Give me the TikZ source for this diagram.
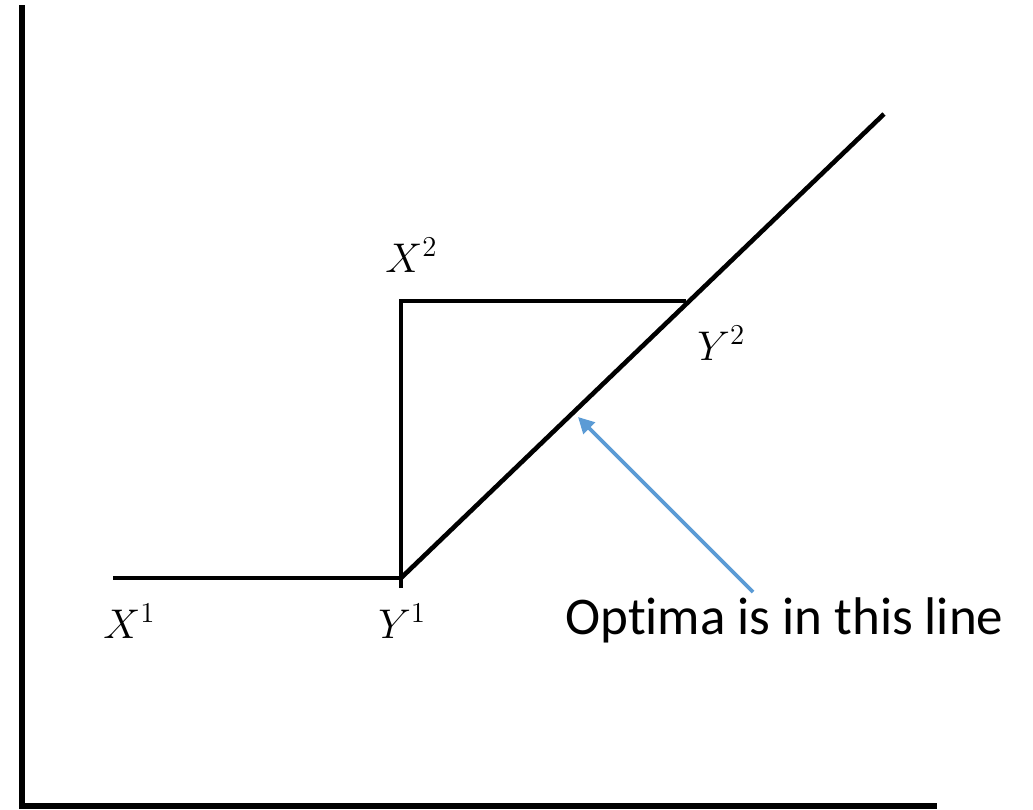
\documentclass[tikz,border=0pt]{standalone}
\usepackage{fontspec}
\setmainfont[Ligatures=NoCommon]{Carlito}
\usepackage{tikz}
\usetikzlibrary{arrows.meta}

\begin{document}
\begin{tikzpicture}[x=0.5pt,y=-0.5pt,
  axis/.style={line width=2.6pt},
  path/.style={line width=2.3pt},
  lbl/.style={anchor=base west,inner sep=0pt,font=\fontsize{22}{26}\selectfont},
  arr/.style={-{Triangle[length=8pt,width=8pt]},draw={rgb,255:red,91;green,155;blue,213},line width=1.8pt}]
\useasboundingbox (0,0) rectangle (1033,809);
% axes
\coordinate (top) at (22,5);
\coordinate (origin) at (22,806);
\coordinate (right) at (937,806);
\draw[axis] (top) -- (origin) -- (right);
% path points
\coordinate (x1) at (113,578);
\coordinate (y1) at (401,578);
\coordinate (y1low) at (401,588);
\coordinate (x2) at (401,301);
\coordinate (y2) at (686,301);
\coordinate (far) at (884,114);
\draw[path] (x1) -- (y1);
\draw[path] (y1low) -- (x2) -- (y2);
\draw[path] (y1) -- (far);
% labels
\node[lbl] (lx1) at (103,638) {$X^1$};
\node[lbl] (ly1) at (378,638) {$Y^1$};
\node[lbl] (lx2) at (385,272) {$X^2$};
\node[lbl] (ly2) at (697,360) {$Y^2$};
\node[anchor=base west,inner sep=0pt,font=\fontsize{26.5}{31}\selectfont] (opt) at (565,634) {Optima is in this line};
\coordinate (tail) at (753,592);
\coordinate (tip) at (578,417);
\draw[arr] (tail) -- (tip);
\end{tikzpicture}
\end{document}
